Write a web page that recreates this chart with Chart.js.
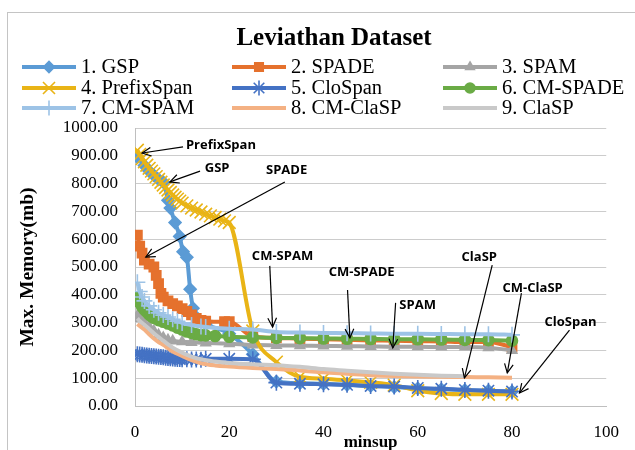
<!DOCTYPE html>
<html>
<head>
<meta charset="utf-8">
<script src="https://cdn.jsdelivr.net/npm/chart.js@4.4.1/dist/chart.umd.min.js"></script>
<style>
  html, body { margin: 0; padding: 0; background: #fff; }
  #wrap { width: 635px; height: 450px; }
</style>
</head>
<body>
<div id="wrap"><canvas id="chartMemory" width="635" height="450"></canvas></div>
<script>
// ---- data (minsup, max memory in mb) ----
const seriesNames = ['1. GSP', '2. SPADE', '3. SPAM', '4. PrefixSpan', '5. CloSpan',
  '6. CM-SPADE', '7. CM-SPAM', '8. CM-ClaSP', '9. ClaSP'];

const gspData = [[0.5,895],[2,865],[3,845],[4,830],[5,815],[6,805],[7,740],[7.5,712],[8.5,660],[9.5,610],
  [10.2,555],[11,535],[11.7,420],[12.3,352],[13,320],[15,295],[20,260],[25,186],[30,88],[35,82],[40,80],
  [45,76],[50,72],[55,68],[60,63],[65,60],[70,57],[75,55],[80,52]];

const spadeData = [[0.5,615],[1,575],[1.5,550],[2,525],[3,510],[4,500],[4.5,470],[5,440],[5.5,405],[6,392],
  [7,378],[8,368],[9,360],[10,350],[11,340],[12,328],[13,315],[14,308],[15,305],[19,303],[20,303],[25,250],
  [30,245],[35,242],[40,240],[45,238],[50,236],[55,235],[60,233],[65,232],[70,230],[75,230],[80,212]];

const spamData = [[0.5,325],[1,315],[2,300],[3,285],[4,270],[5,256],[6,246],[7,238],[8,234],[10,231],
  [12,229],[15,227],[20,224],[25,220],[30,218],[35,217],[40,216],[45,215],[50,214],[55,213],[60,213],
  [65,212],[70,212],[75,210],[80,200]];

const prefixSpanData = [[0.5,920],[1,905],[1.5,890],[2,878],[2.5,866],[3,855],[3.5,845],[4,835],[4.5,825],
  [5,815],[5.5,805],[6,795],[6.5,786],[7,777],[7.5,768],[8,759],[8.5,751],[9,744],[9.5,737],[10,730],
  [11,720],[12,712],[13,705],[14,698],[15,690],[16,684],[17,678],[18,672],[19,666],[20,660],[25,270],
  [30,158],[35,105],[40,98],[45,92],[50,85],[55,75],[60,55],[65,45],[70,42],[75,42],[80,42]];

const cloSpanData = [[0.5,186],[1,185],[1.5,184],[2,183],[2.5,182],[3,181],[3.5,180],[4,179],[4.5,178],
  [5,177],[5.5,176],[6,175],[6.5,174],[7,173],[7.5,172],[8,171],[8.5,170],[9,169],[9.5,169],[10,168],
  [11,168],[12,167],[13,167],[14,166],[15,170],[20,170],[25,168],[30,84],[35,80],[40,78],[45,76],
  [50,72],[55,70],[60,65],[65,62],[70,58],[75,55],[80,52]];

const cmSpadeData = [[0.5,390],[1,372],[1.5,358],[2,347],[2.5,338],[3,330],[3.5,323],[4,317],[5,309],
  [6,303],[7,297],[8,290],[9,282],[10,275],[11,268],[12,263],[13,258],[14,255],[15,254],[17,252],[20,249],
  [25,247],[30,245],[35,244],[40,243],[45,242],[50,241],[55,240],[60,240],[65,239],[70,238],[75,237],[80,235]];

const cmSpamData = [[0.5,445],[1,412],[1.5,392],[2,378],[3,360],[4,346],[5,335],[6,327],[7,320],[8,312],
  [9,305],[10,299],[12,291],[14,286],[15,284],[20,278],[25,275],[30,266],[35,264],[40,263],[45,262],
  [50,261],[55,260],[60,260],[65,259],[70,258],[75,258],[80,256]];

const cmClaspData = [[0.5,295],[1,288],[2,275],[3,258],[4,243],[5,230],[6,220],[7,208],[8,196],[10,180],
  [12,165],[14,154],[17,146],[20,142],[25,137],[30,133],[35,128],[40,121],[45,116],[50,111],[55,108],
  [60,106],[65,105],[70,104],[75,103],[80,102]];

const claspData = [[0.5,315],[1,306],[2,292],[3,277],[4,262],[5,248],[6,235],[7,222],[8,210],[10,192],
  [12,178],[14,168],[17,160],[20,155],[25,150],[30,147],[35,141],[40,133],[45,127],[50,121],[55,116],
  [60,112],[65,109],[70,107]];

const xTicks = [0, 20, 40, 60, 80, 100];
const yTicks = [0, 100, 200, 300, 400, 500, 600, 700, 800, 900, 1000];

// text + arrows pointing at curves (data coordinates)
const notes = [
  { text: 'PrefixSpan', at: [10.8, 939], from: [10.2, 932], to: [1.5, 910] },
  { text: 'GSP',        at: [14.8, 856], from: [13.8, 845], to: [7.4, 806] },
  { text: 'SPADE',      at: [27.8, 849], from: [31.8, 806], to: [2.3, 536] },
  { text: 'CM-SPAM',    at: [24.8, 540], from: [28.6, 504], to: [29.2, 284] },
  { text: 'CM-SPADE',   at: [41.1, 482], from: [45.1, 417], to: [45.6, 245] },
  { text: 'SPAM',       at: [56.1, 363], from: [55.3, 371], to: [54.7, 209] },
  { text: 'ClaSP',      at: [69.3, 536], from: [75.8, 507], to: [69.9, 101] },
  { text: 'CM-ClaSP',   at: [78.0, 424], from: [82.0, 406], to: [79.0, 119] },
  { text: 'CloSpan',    at: [86.9, 302], from: [92.2, 273], to: [81.6, 47] }
];

const SERIF = '"Liberation Serif", "Times New Roman", serif';
const SANS = '"Open Sans", "Liberation Sans", sans-serif';

const allData = [gspData, spadeData, spamData, prefixSpanData, cloSpanData,
  cmSpadeData, cmSpamData, cmClaspData, claspData];

const looks = [
  { color: '#5b9bd5', style: 'rectRot',  r: 6 },
  { color: '#e5712d', style: 'rect',     r: 6.5 },
  { color: '#a5a5a5', style: 'triangle', r: 5.5 },
  { color: '#e9b416', style: 'crossRot', r: 9 },
  { color: '#4472c4', style: 'star',     r: 8 },
  { color: '#6aab45', style: 'circle',   r: 5.5 },
  { color: '#9dc3e6', style: 'cross',    r: 8 },
  { color: '#f4b183', style: false,      r: 0 },
  { color: '#c9c9c9', style: false,      r: 0 }
];

const datasets = allData.map((rows, i) => ({
  label: seriesNames[i],
  data: rows.map(([x, y]) => ({ x, y })),
  borderColor: looks[i].color,
  backgroundColor: looks[i].color,
  borderWidth: 4,
  pointStyle: looks[i].style || 'circle',
  pointRadius: looks[i].r,
  pointBorderWidth: 1.6,
  cubicInterpolationMode: 'monotone',
  order: 9 - i
}));

function drawArrow(ctx, x1, y1, x2, y2) {
  ctx.beginPath();
  ctx.moveTo(x1, y1);
  ctx.lineTo(x2, y2);
  ctx.stroke();
  const a = Math.atan2(y2 - y1, x2 - x1), h = 10;
  ctx.beginPath();
  ctx.moveTo(x2 - h * Math.cos(a - 0.45), y2 - h * Math.sin(a - 0.45));
  ctx.lineTo(x2, y2);
  ctx.lineTo(x2 - h * Math.cos(a + 0.45), y2 - h * Math.sin(a + 0.45));
  ctx.stroke();
}

const decor = {
  id: 'decor',
  beforeDraw(chart) {
    const ctx = chart.ctx;
    ctx.save();
    ctx.fillStyle = '#fff';
    ctx.fillRect(0, 0, chart.width, chart.height);
    ctx.strokeStyle = '#c4c4c4';
    ctx.lineWidth = 1;
    ctx.strokeRect(7.5, 12.5, chart.width + 10, chart.height + 10);
    ctx.restore();
  },
  afterDraw(chart) {
    const ctx = chart.ctx;
    const xs = chart.scales.x, ys = chart.scales.y;
    ctx.save();

    // title
    ctx.fillStyle = '#000';
    ctx.font = 'bold 25px ' + SERIF;
    ctx.textAlign = 'center';
    ctx.textBaseline = 'middle';
    ctx.fillText('Leviathan Dataset', 334, 39);

    // legend, 3 columns
    const colX = [22, 232, 443], rowY = [67, 88, 108];
    ctx.font = '20.5px ' + SERIF;
    ctx.textAlign = 'left';
    chart.data.datasets.forEach((ds, i) => {
      const x = colX[i % 3], y = rowY[Math.floor(i / 3)];
      ctx.strokeStyle = ds.borderColor;
      ctx.lineWidth = 4;
      ctx.beginPath();
      ctx.moveTo(x, y);
      ctx.lineTo(x + 54, y);
      ctx.stroke();
      if (ds.pointRadius > 0 && Chart.helpers && Chart.helpers.drawPoint) {
        ctx.fillStyle = ds.backgroundColor;
        ctx.lineWidth = ds.pointBorderWidth;
        Chart.helpers.drawPoint(ctx, {
          pointStyle: ds.pointStyle, radius: ds.pointRadius - 0.5,
          borderWidth: ds.pointBorderWidth, rotation: 0
        }, x + 27, y);
      }
      ctx.fillStyle = '#000';
      ctx.fillText(ds.label, x + 59, y + 1);
    });

    // annotations
    ctx.font = 'bold 13px ' + SANS;
    ctx.strokeStyle = '#000';
    ctx.fillStyle = '#000';
    ctx.lineWidth = 1.2;
    notes.forEach(n => {
      ctx.fillText(n.text, xs.getPixelForValue(n.at[0]), ys.getPixelForValue(n.at[1]));
      drawArrow(ctx,
        xs.getPixelForValue(n.from[0]), ys.getPixelForValue(n.from[1]),
        xs.getPixelForValue(n.to[0]), ys.getPixelForValue(n.to[1]));
    });
    ctx.restore();
  }
};

new Chart(document.getElementById('chartMemory'), {
  type: 'line',
  data: { datasets },
  options: {
    responsive: false,
    animation: false,
    events: [],
    layout: { padding: { top: 128, right: 28, bottom: 0, left: 0 } },
    plugins: { legend: { display: false }, tooltip: { enabled: false } },
    scales: {
      x: {
        type: 'linear',
        min: 0, max: 100,
        afterBuildTicks: s => { s.ticks = xTicks.map(v => ({ value: v })); },
        afterFit: s => { s.height = 44; },
        grid: { display: false, drawTicks: false },
        border: { display: true, color: '#bfbfbf' },
        ticks: { color: '#000', padding: 16, maxRotation: 0, font: { family: SERIF, size: 17 } },
        title: {
          display: true, text: 'minsup', color: '#000',
          font: { family: SERIF, size: 17, weight: 'bold' },
          padding: { top: 0, bottom: -3 }
        }
      },
      y: {
        min: 0, max: 1000,
        afterBuildTicks: s => { s.ticks = yTicks.map(v => ({ value: v })); },
        afterFit: s => { s.width = 135; },
        grid: { color: '#cccccc', drawTicks: false },
        border: { display: true, color: '#bfbfbf' },
        ticks: {
          color: '#000', padding: 17, font: { family: SERIF, size: 17 },
          callback: v => v.toFixed(2)
        },
        title: {
          display: true, text: 'Max. Memory(mb)', color: '#000',
          font: { family: SERIF, size: 19.5, weight: 'bold' },
          padding: { top: 16, bottom: 0 }
        }
      }
    }
  },
  plugins: [decor]
});
</script>
</body>
</html>
